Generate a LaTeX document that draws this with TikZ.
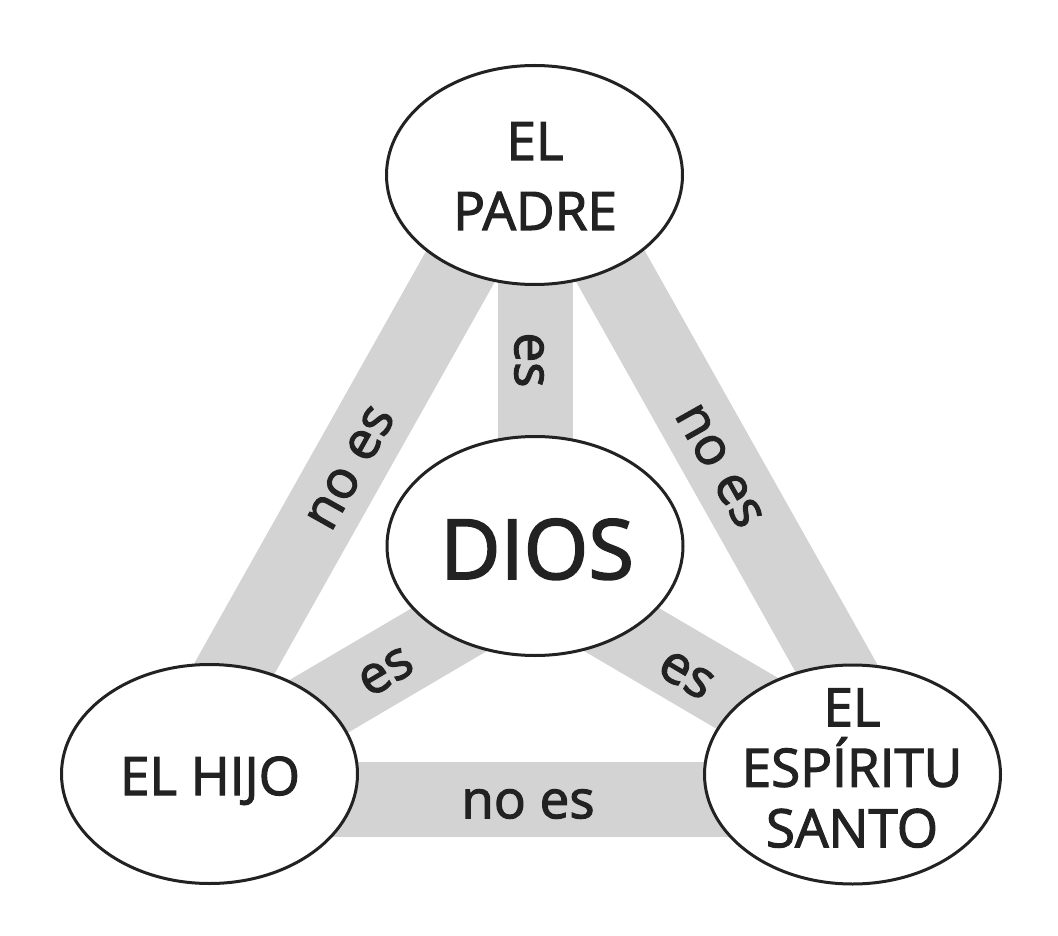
\documentclass[tikz,border=0pt]{standalone}
\usepackage{fontspec}
\setmainfont{Open Sans}[UprightFeatures={FakeBold=2.2}]
\usetikzlibrary{shapes.geometric}
\definecolor{bargray}{RGB}{211,211,211}
\definecolor{ink}{RGB}{34,34,34}
\begin{document}
\begin{tikzpicture}[x=1pt,y=-1pt,
  bar/.style={draw=bargray, line width=75pt, line cap=butt},
  oval/.style={ellipse, draw=ink, line width=3pt, fill=white, minimum width=296pt, minimum height=219pt, inner sep=0pt},
  lbl/.style={text=ink, align=center, inner sep=0pt},
  barlbl/.style={text=ink, font=\fontsize{53}{60}\selectfont, inner sep=0pt}]
\useasboundingbox[fill=white] (0,0) rectangle (1058,936);
% triangle vertices and centre of the bars
\coordinate (vA) at (535.5,133);
\coordinate (vB) at (161,799);
\coordinate (vC) at (910,799);
\coordinate (vG) at (535.5,579);
% bars
\draw[bar] (vA) -- (vB);
\draw[bar] (vA) -- (vC);
\draw[bar] (vB) -- (vC);
\draw[bar] (vG) -- (vA);
\draw[bar] (vG) -- (vB);
\draw[bar] (vG) -- (vC);
% bar labels
\node[barlbl, rotate=60.65] (l1) at (351,468) {no es};
\node[barlbl, rotate=-60.65] (l2) at (719,466) {no es};
\node[barlbl] (l3) at (528,804) {no es};
\node[barlbl, rotate=-90] (l4) at (529,360) {es};
\node[barlbl, rotate=30.66] (l5) at (386,672) {es};
\node[barlbl, rotate=-30.66] (l6) at (686,675) {es};
% ovals
\node[oval] (padre) at (534.5,175) {};
\node[oval] (dios) at (535,546) {};
\node[oval] (hijo) at (209.5,774) {};
\node[oval] (santo) at (852.5,774.5) {};
% texts
\node[lbl, font=\fontsize{53}{70}\selectfont] (padreT) at (535,176) {EL\\PADRE};
\node[lbl, font=\fontsize{83}{90}\selectfont, anchor=base] (diosT) at (537,579) {DIOS};
\node[lbl, font=\fontsize{53}{60}\selectfont, anchor=base] (hijoT) at (210,795) {EL HIJO};
\node[lbl, font=\fontsize{53}{60.5}\selectfont] (santoT) at (852,768) {EL\\ESPÍRITU\\SANTO};
\end{tikzpicture}
\end{document}
